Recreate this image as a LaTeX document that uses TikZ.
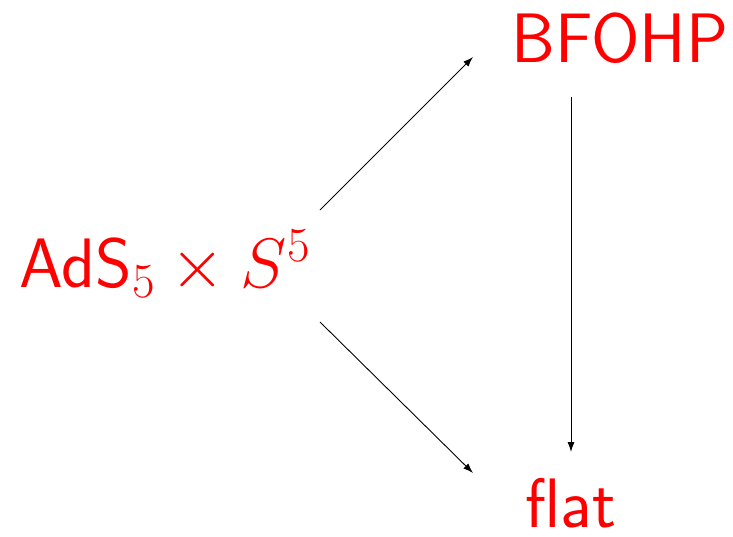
\documentclass[tikz,border=0pt]{standalone}
\usepackage{fix-cm}
\usepackage{fontspec}
\usetikzlibrary{arrows.meta}
\tikzset{
  lbl/.style={text=red, font=\fontsize{70}{82}\selectfont\sffamily, inner sep=0pt, anchor=base},
  arr/.style={-{Latex[length=10pt,width=7pt]}, line width=0.9pt, black}
}
\begin{document}
\begin{tikzpicture}[x=1pt,y=-1pt]
\useasboundingbox (0,0) rectangle (733,536);
\node[lbl] (ads) at (165,287) {AdS$_5\times S^5$};
\node[lbl] (bf) at (620,62) {BFOHP};
\node[lbl] (flat) at (571,527) {flat};
\coordinate (a1) at (320,210);
\coordinate (a2) at (473,57);
\coordinate (b1) at (320,322);
\coordinate (b2) at (473,473);
\coordinate (c1) at (571,97);
\coordinate (c2) at (571,452);
\draw[arr] (a1) -- (a2);
\draw[arr] (b1) -- (b2);
\draw[arr] (c1) -- (c2);
\end{tikzpicture}
\end{document}
